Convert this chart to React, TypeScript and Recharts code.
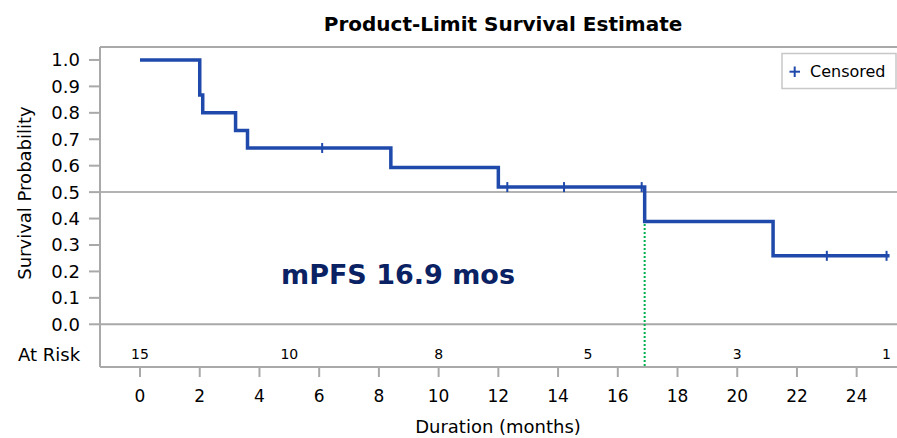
import React from 'react';
import { ComposedChart, Line, Scatter, XAxis, YAxis, ReferenceLine } from 'recharts';

// Kaplan-Meier step curve (time in months, survival probability)
const kmTimes = [0, 2.0, 2.1, 3.2, 3.6, 8.4, 12.0, 16.9, 21.2, 25.1];
const kmSurv = [1.0, 0.867, 0.8, 0.733, 0.667, 0.593, 0.519, 0.389, 0.259, 0.259];

// Censored observations
const censorTimes = [6.1, 12.3, 14.2, 16.8, 23.0, 25.0];
const censorSurv = [0.667, 0.519, 0.519, 0.519, 0.259, 0.259];

// Number at risk
const atRiskTimes = [0, 5, 10, 15, 20, 25];
const atRiskCounts = [15, 10, 8, 5, 3, 1];

// Axis ticks
const xTicks = [0, 2, 4, 6, 8, 10, 12, 14, 16, 18, 20, 22, 24];
const yTicks = [0, 0.1, 0.2, 0.3, 0.4, 0.5, 0.6, 0.7, 0.8, 0.9, 1.0];

// Median PFS
const medianTime = 16.9;
const medianSurv = 0.5;

const W = 897;
const H = 438;
const X_MIN = -1.34;
const X_MAX = 25.35;
const Y_MIN = -0.1616;
const Y_MAX = 1.049;
const AT_RISK_ROW = -0.113;

const kmData = kmTimes.map((t, i) => ({ t, s: kmSurv[i] }));
const censorData = censorTimes.map((t, i) => ({ t, s: censorSurv[i] }));
const atRiskData = atRiskTimes.map((t, i) => ({ t, s: AT_RISK_ROW, n: atRiskCounts[i] }));

const FONT = '"DejaVu Sans", "Liberation Sans", sans-serif';
const BLUE = '#1f49aa';
const FRAME = '#a9a9a9';
const TEXT = '#000';

const CensorMark = (props: any) => {
  const { cx, cy } = props;
  if (cx == null || cy == null) return null;
  return <line x1={cx} x2={cx} y1={cy - 5} y2={cy + 5} stroke={BLUE} strokeWidth={2} />;
};

const AtRiskText = (props: any) => {
  const { cx, cy, payload } = props;
  if (cx == null || cy == null) return null;
  return (
    <text x={cx} y={cy + 5} textAnchor="middle" fontFamily={FONT} fontSize={14} fill={TEXT}>
      {payload.n}
    </text>
  );
};

export default function App() {
  return (
    <div style={{ position: 'absolute', left: 0, top: 0, width: W, height: H, background: '#fff' }}>
      <ComposedChart width={W} height={H} margin={{ top: 47, right: 0, bottom: 0, left: 0 }}>
        <XAxis
          type="number"
          dataKey="t"
          domain={[X_MIN, X_MAX]}
          ticks={xTicks}
          allowDataOverflow
          height={71}
          tickSize={10}
          tickMargin={13}
          axisLine={{ stroke: FRAME, strokeWidth: 2 }}
          tickLine={{ stroke: FRAME, strokeWidth: 2 }}
          tick={{ fontFamily: FONT, fontSize: 17, fill: TEXT }}
        />
        <YAxis
          type="number"
          dataKey="s"
          domain={[Y_MIN, Y_MAX]}
          ticks={yTicks}
          allowDataOverflow
          width={100}
          tickSize={11}
          tickMargin={9}
          tickFormatter={(v: number) => v.toFixed(1)}
          axisLine={{ stroke: FRAME, strokeWidth: 2 }}
          tickLine={{ stroke: FRAME, strokeWidth: 2 }}
          tick={{ fontFamily: FONT, fontSize: 18, fill: TEXT }}
        />
        <ReferenceLine y={Y_MAX} stroke={FRAME} strokeWidth={2} ifOverflow="visible" />
        <ReferenceLine y={0} stroke={FRAME} strokeWidth={2} />
        <ReferenceLine y={medianSurv} stroke="#9a9a9a" strokeWidth={1.5} />
        <ReferenceLine
          segment={[{ x: medianTime, y: medianSurv }, { x: medianTime, y: Y_MIN }]}
          stroke="#00b050"
          strokeWidth={2}
          strokeDasharray="2 2"
          ifOverflow="visible"
        />
        <Line
          data={kmData}
          dataKey="s"
          type="stepAfter"
          stroke={BLUE}
          strokeWidth={3.5}
          dot={false}
          activeDot={false}
          isAnimationActive={false}
        />
        <Scatter data={censorData} dataKey="s" shape={CensorMark} isAnimationActive={false} />
        <Scatter data={atRiskData} dataKey="s" shape={AtRiskText} isAnimationActive={false} />
      </ComposedChart>
      <svg
        width={W}
        height={H}
        style={{ position: 'absolute', left: 0, top: 0, pointerEvents: 'none' }}
      >
        <text x={503} y={31} textAnchor="middle" fontFamily={FONT} fontWeight="bold" fontSize={20} fill="#000">
          Product-Limit Survival Estimate
        </text>
        <text
          x={31}
          y={193}
          textAnchor="middle"
          transform="rotate(-90, 31, 193)"
          fontFamily={FONT}
          fontSize={18}
          fill={TEXT}
        >
          Survival Probability
        </text>
        <text x={498} y={433} textAnchor="middle" fontFamily={FONT} fontSize={18} fill={TEXT}>
          Duration (months)
        </text>
        <text x={18} y={361} fontFamily={FONT} fontSize={18} fill={TEXT}>
          At Risk
        </text>
        <text x={281} y={284} fontFamily={FONT} fontWeight="bold" fontSize={27} fill="#0a2263">
          mPFS 16.9 mos
        </text>
        <rect x={782} y={53.5} width={114} height={35} fill="#fff" stroke="#c8c8c8" strokeWidth={1.5} />
        <line x1={789.5} x2={800} y1={71.7} y2={71.7} stroke={BLUE} strokeWidth={2} />
        <line x1={794.7} x2={794.7} y1={66.5} y2={77} stroke={BLUE} strokeWidth={2} />
        <text x={810} y={77} fontFamily={FONT} fontSize={16} fill={TEXT}>
          Censored
        </text>
      </svg>
    </div>
  );
}
